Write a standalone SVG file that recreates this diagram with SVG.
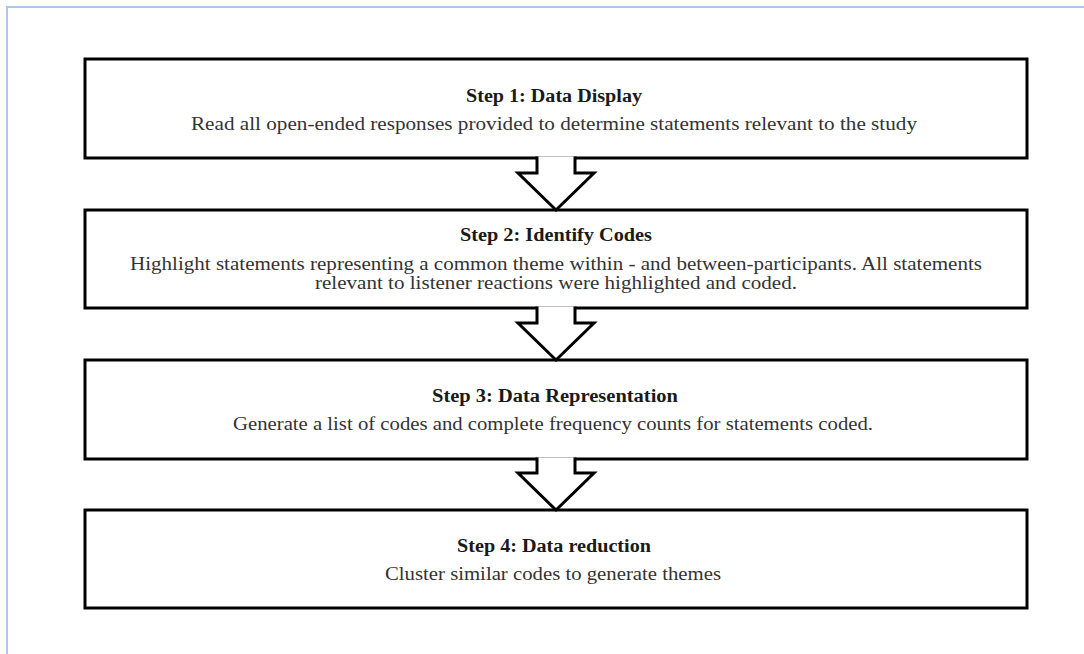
<svg xmlns="http://www.w3.org/2000/svg" width="1084" height="654" viewBox="0 0 1084 654">
<style>
.frame{fill:none;stroke:#a9c7e6;stroke-width:2}
.box{fill:#fff;stroke:#000;stroke-width:3}
.arrow{fill:#fff;stroke:#000;stroke-width:3;stroke-linejoin:miter}
.title{font-family:"Liberation Serif","Times New Roman",serif;font-size:18px;font-weight:bold;fill:#1a1a1a;text-anchor:middle}
.body{font-family:"Liberation Serif","Times New Roman",serif;font-size:18px;fill:#333;text-anchor:middle}
</style>
<rect width="1084" height="654" fill="#fff"/>
<path class="frame" d="M7,654 V7 H1084"/>
<g id="step1">
<rect class="box" x="85" y="59" width="942" height="99"/>
<text class="title" x="554" y="102" textLength="176" lengthAdjust="spacingAndGlyphs">Step 1: Data Display</text>
<text class="body" x="554" y="130" textLength="726" lengthAdjust="spacingAndGlyphs">Read all open-ended responses provided to determine statements relevant to the study</text>
</g>
<g id="step2">
<rect class="box" x="85" y="210" width="942" height="98"/>
<text class="title" x="556" y="241" textLength="192" lengthAdjust="spacingAndGlyphs">Step 2: Identify Codes</text>
<text class="body" x="556" y="270" textLength="852" lengthAdjust="spacingAndGlyphs">Highlight statements representing a common theme within - and between-participants. All statements</text>
<text class="body" x="556" y="289" textLength="482" lengthAdjust="spacingAndGlyphs">relevant to listener reactions were highlighted and coded.</text>
</g>
<g id="step3">
<rect class="box" x="85" y="360" width="942" height="99"/>
<text class="title" x="555" y="402" textLength="246" lengthAdjust="spacingAndGlyphs">Step 3: Data Representation</text>
<text class="body" x="553" y="430" textLength="640" lengthAdjust="spacingAndGlyphs">Generate a list of codes and complete frequency counts for statements coded.</text>
</g>
<g id="step4">
<rect class="box" x="85" y="510" width="942" height="98"/>
<text class="title" x="554" y="552" textLength="194" lengthAdjust="spacingAndGlyphs">Step 4: Data reduction</text>
<text class="body" x="553" y="580" textLength="336" lengthAdjust="spacingAndGlyphs">Cluster similar codes to generate themes</text>
</g>
<g id="connectors">
<path class="arrow" d="M537,156.5 V173 H518 L556,210 L594,173 H575 V156.5"/>
<path class="arrow" d="M537,306.5 V323 H518 L556,360 L594,323 H575 V306.5"/>
<path class="arrow" d="M537,457.5 V473 H518 L556,510 L594,473 H575 V457.5"/>
</g>
</svg>
